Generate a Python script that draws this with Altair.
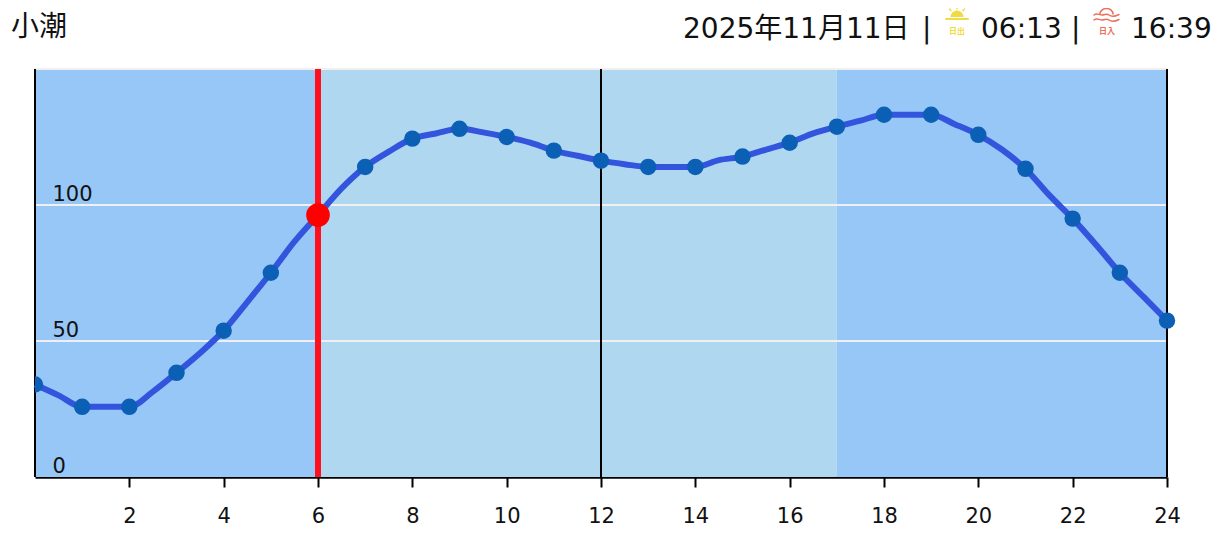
import base64
import altair as alt
import pandas as pd

hours = list(range(25))
tide = [34, 25.8, 25.8, 38.3, 53.8, 75.1, 96.3, 114, 124.4, 128, 125, 120, 116.3, 114, 114, 117.8, 122.9, 128.8, 133.2, 133.2, 125.8, 113.3, 95, 75.1, 57.5]
half_hours = [h + 0.5 for h in range(24)]
half_tide = [30, 25.8, 31.4, 45.6, 64.3, 86.5, 106.1, 119.6, 126.3, 126.7, 122.9, 118.1, 115, 114, 116.5, 120.4, 126.3, 131, 133.2, 129.7, 120.4, 103.7, 85.3, 66.3]
now_hour = [6]
now_tide = [96.3]
band_start = [0, 6, 17]
band_end = [6, 17, 24]
band_kind = ["night", "day", "night"]
grid_values = [50, 100, 150]
black_lines = [0, 12, 24]
x_ticks = list(range(2, 25, 2))
y_ticks = [0, 50, 100]
title_left = "小潮"
title_date = "2025年11月11日"
sunrise = "06:13"
sunset = "16:39"
sep = "|"
sunrise_label = "日出"
sunset_label = "日入"

W, H = 1132, 408
LEFT, TOP = 27, 61
X0, Y0 = 35, 69
FONT = "DejaVu Sans, Noto Sans CJK JP"

df = pd.DataFrame({"h": hours, "v": tide})
df_line = pd.concat([df, pd.DataFrame({"h": half_hours, "v": half_tide})]).sort_values("h")
x_s = alt.Scale(domain=[0, 24], nice=False, zero=False)
y_s = alt.Scale(domain=[0, 150], nice=False)
x_axis = alt.Axis(values=x_ticks, grid=False, tickSize=10, tickWidth=2, tickColor="#000",
                  domainColor="#000", domainWidth=2.5, labelFontSize=21, labelColor="#111",
                  labelFont="DejaVu Sans", labelPadding=18, format="d", labelFlush=False,
                  labelOverlap=False, title=None)
y_axis = alt.Axis(values=y_ticks, grid=False, ticks=False, domain=False, labelAlign="left",
                  labelBaseline="bottom", labelPadding=-17, labelFontSize=21, labelColor="#111",
                  labelFont="DejaVu Sans", labelOffset=-1, zindex=1, title=None)


def X(field):
    return alt.X(field, scale=x_s, axis=x_axis)


def Y(field):
    return alt.Y(field, scale=y_s, axis=y_axis)


bands = alt.Chart(pd.DataFrame({"a": band_start, "b": band_end, "k": band_kind})).mark_rect().encode(
    x=X("a:Q"), x2="b:Q",
    y=alt.value(0), y2=alt.value(H),
    color=alt.Color("k:N", scale=alt.Scale(domain=["night", "day"], range=["#97c7f7", "#b0d7f0"]), legend=None),
)
grid = alt.Chart(pd.DataFrame({"g": grid_values})).mark_rule(color="#f0f0f0", strokeWidth=2).encode(y=Y("g:Q"))
blacks = alt.Chart(pd.DataFrame({"h": black_lines})).mark_rule(color="#000", strokeWidth=2).encode(x=X("h:Q"))
line = alt.Chart(df_line).mark_line(color="#3355dd", strokeWidth=6, interpolate="monotone").encode(x=X("h:Q"), y=Y("v:Q"))
dots = alt.Chart(df[df.h > 0]).mark_circle(color="#0b5fb5", size=270, opacity=1).encode(x=X("h:Q"), y=Y("v:Q"))
first_dot = alt.Chart(df[df.h == 0]).mark_circle(color="#0b5fb5", size=270, opacity=1, clip=True).encode(x=X("h:Q"), y=Y("v:Q"))
now_rule = alt.Chart(pd.DataFrame({"h": now_hour})).mark_rule(color="#ff1020", strokeWidth=6).encode(x=X("h:Q"))
now_dot = alt.Chart(pd.DataFrame({"h": now_hour, "v": now_tide})).mark_circle(color="#ff0000", size=560, opacity=1).encode(x=X("h:Q"), y=Y("v:Q"))


def label(text, px, py, size=28, color="#111", align="left", font=FONT, weight=400):
    return alt.Chart(pd.DataFrame({"t": [text]})).mark_text(
        align=align, baseline="alphabetic", fontSize=size, color=color, font=font, fontWeight=weight).encode(
        x=alt.value(px - X0), y=alt.value(py - Y0), text="t:N")


def icon(svg, px, py, w, h):
    uri = "data:image/svg+xml;base64," + base64.b64encode(svg.encode()).decode()
    return alt.Chart(pd.DataFrame({"u": [uri]})).mark_image(width=w, height=h, align="left", baseline="top").encode(
        x=alt.value(px - X0), y=alt.value(py - Y0), url="u:N")


sun_svg = ('<svg xmlns="http://www.w3.org/2000/svg" viewBox="0 0 24 16">'
           '<path d="M5.5 11a6.5 6.5 0 0 1 13 0z" fill="#efdc45"/>'
           '<rect x="0" y="12" width="24" height="2" rx="1" fill="#efdc45"/>'
           '<g stroke="#efdc45" stroke-width="1.4" stroke-linecap="round">'
           '<path d="M12 0.7v2.2M4.5 3l1.500 1.700M19.500 3l-1.500 1.700"/></g></svg>')
set_svg = ('<svg xmlns="http://www.w3.org/2000/svg" viewBox="0 0 27 16">'
           '<g fill="none" stroke="#ee6f5c" stroke-width="1.500" stroke-linecap="round">'
           '<path d="M7 6a6.500 5.500 0 0 1 13 0"/>'
           '<path d="M1 7c3-2.500 5 0 8 0s4.500-2 7 0 6 1.500 10-.5"/>'
           '<path d="M1 12c3-2.500 5 0 8 0s4.500-2 7 0 6 1.500 10-.5"/></g></svg>')

texts = [
    label(title_left, 11, 36, font="Noto Sans CJK JP"),
    label(title_date, 683, 38),
    label(sep, 922, 38),
    label(sunrise, 981, 38),
    label(sep, 1071, 38),
    label(sunset, 1131, 38),
    label(sunrise_label, 957, 34, size=8, color="#efdc45", align="center", font="Noto Sans CJK JP", weight=700),
    label(sunset_label, 1107, 34, size=8, color="#ee6f5c", align="center", font="Noto Sans CJK JP", weight=700),
    icon(sun_svg, 945, 6, 24, 16),
    icon(set_svg, 1093, 8, 27, 16),
]

chart = alt.layer(bands, grid, blacks, line, dots, first_dot, now_rule, now_dot, *texts).properties(
    width=W, height=H,
    autosize=alt.AutoSizeParams(type="none"),
    padding={"left": LEFT, "top": TOP, "right": 50, "bottom": 60},
).configure_view(stroke=None).configure(background="white")

chart.save("out.html", embed_options={"renderer": "svg", "actions": False})
